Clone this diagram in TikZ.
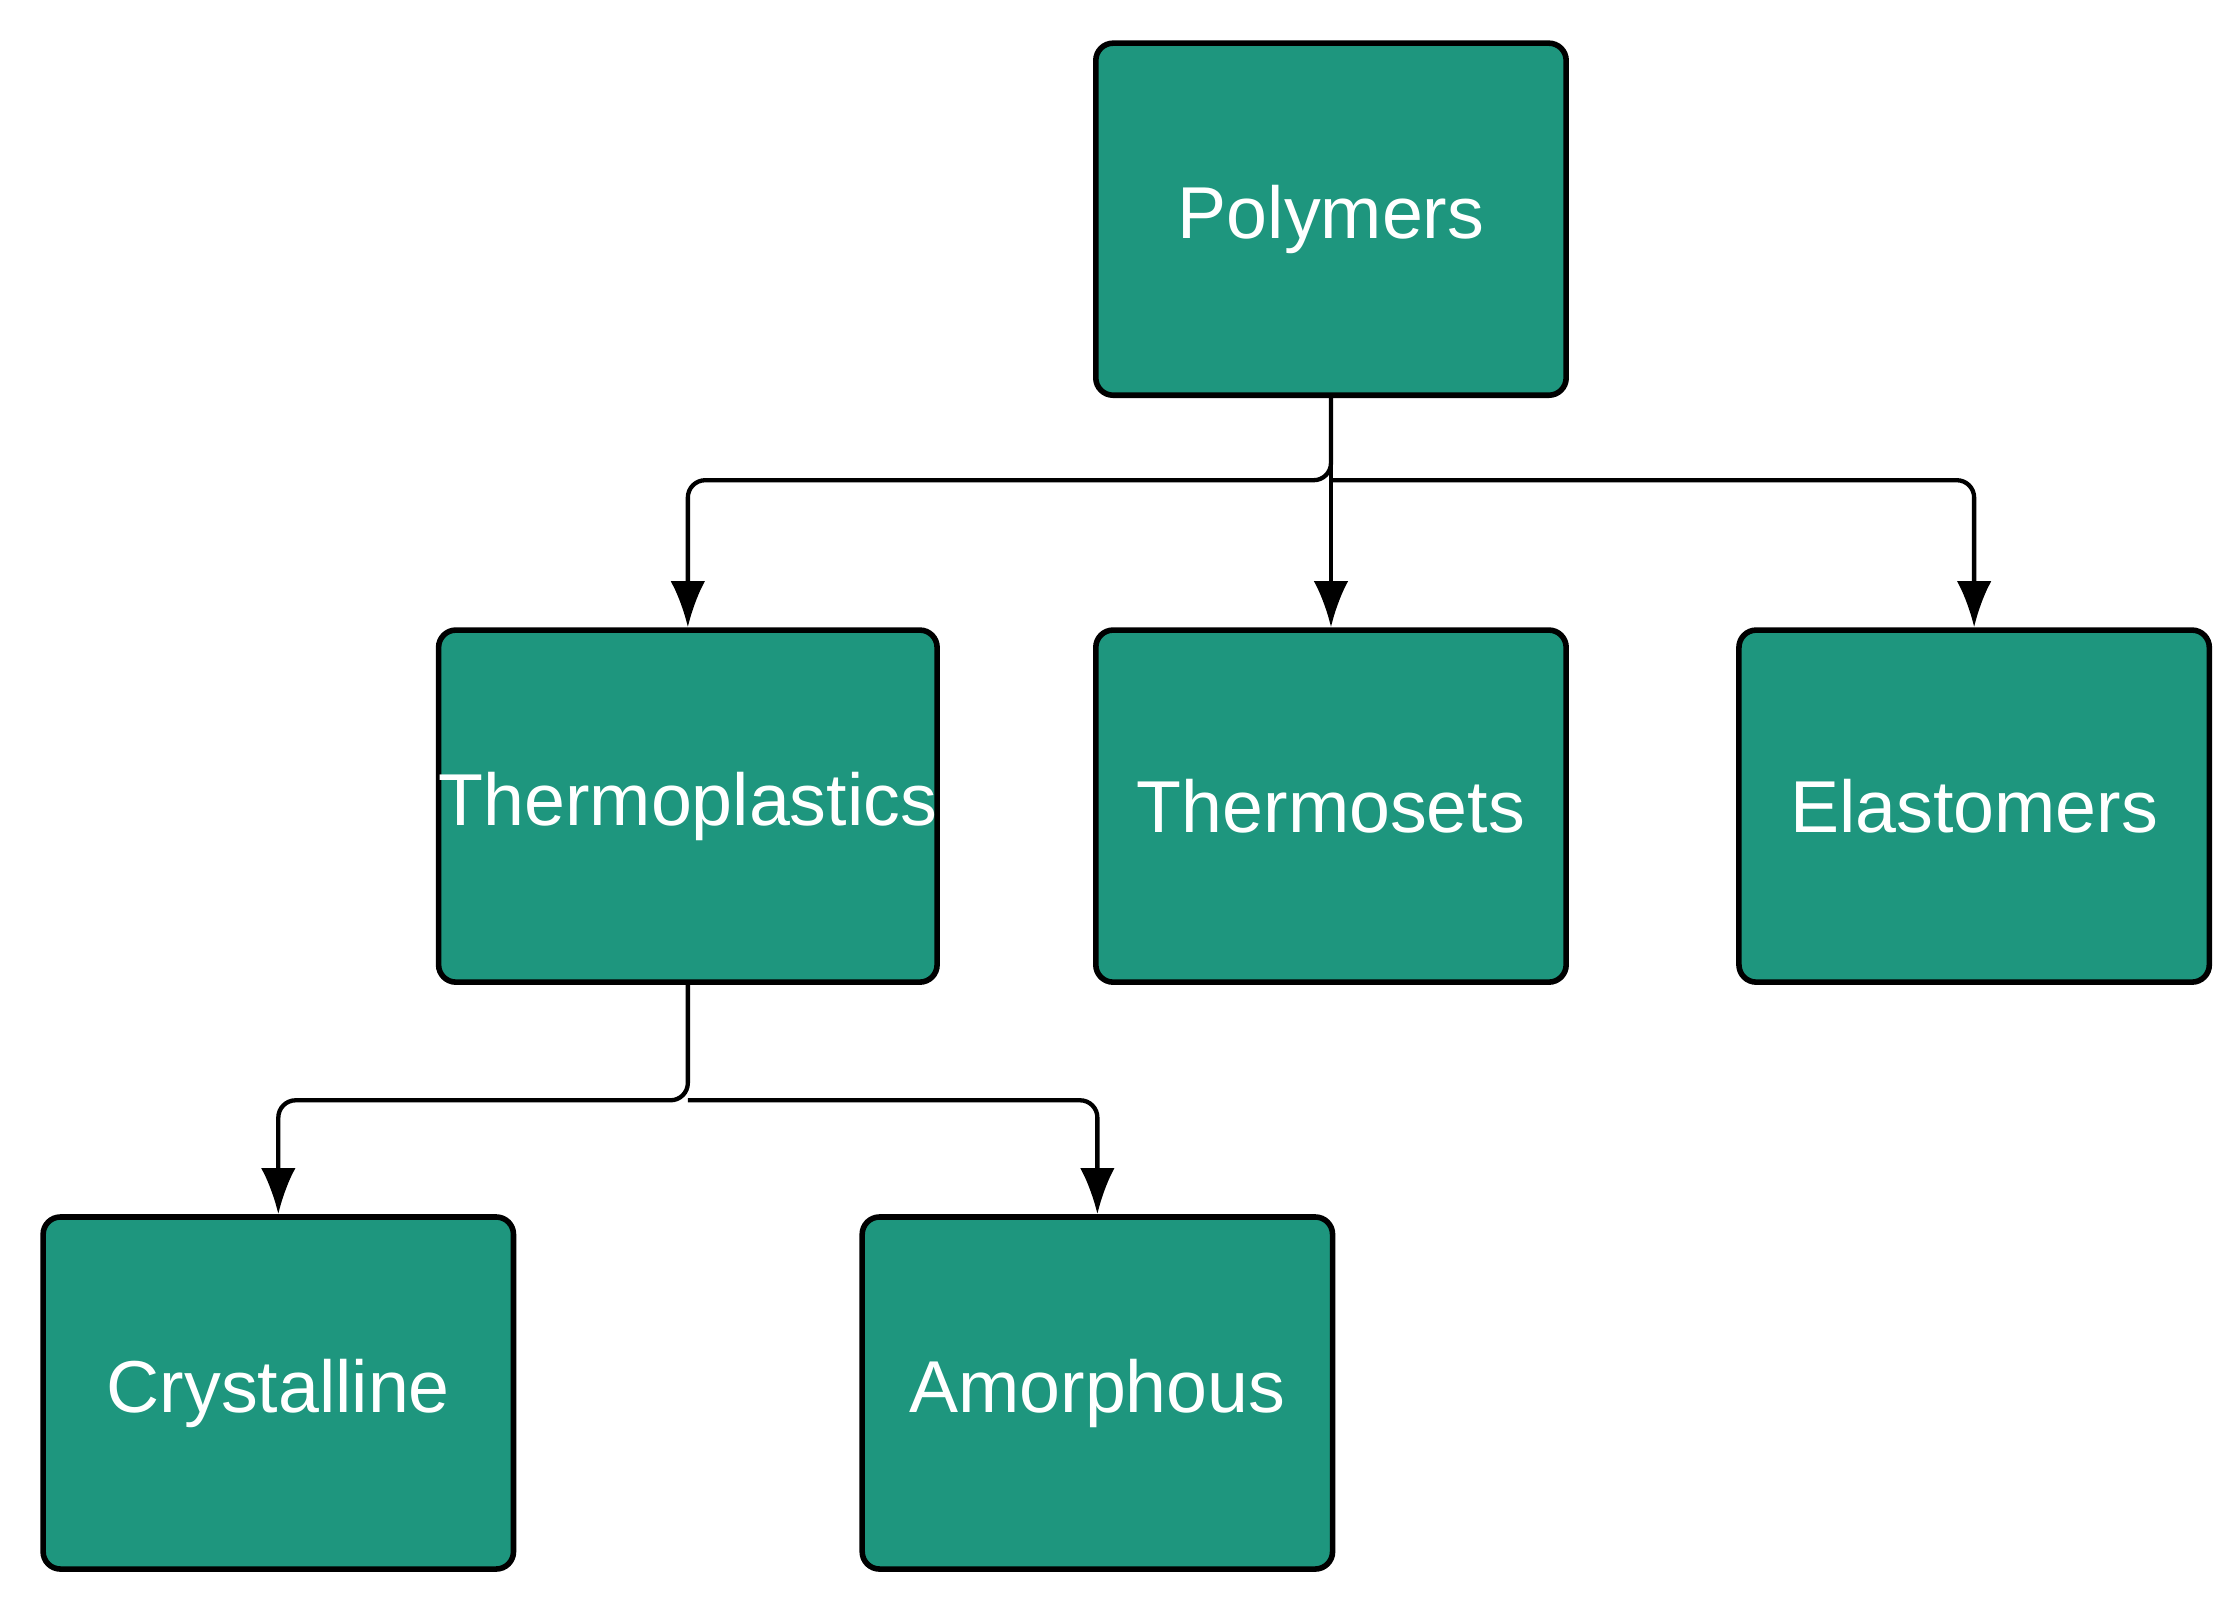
\documentclass[tikz,border=0pt]{standalone}
\usepackage{fontspec}
\setmainfont{Liberation Sans}
\usetikzlibrary{arrows.meta}
\definecolor{boxfill}{HTML}{1E967E}
\begin{document}
\begin{tikzpicture}[x=0.01cm,y=-0.01cm,
  box/.style={draw=black,line width=1.1pt,fill=boxfill,rounded corners=1.2mm,
    minimum width=3.26cm,minimum height=2.44cm,text=white,font=\fontsize{14.5}{17}\selectfont,inner sep=0pt},
  conn/.style={line width=0.85pt,rounded corners=1.2mm,-{Latex[length=3.2mm,width=2.4mm]}}]
\useasboundingbox (0,0) rectangle (1552,1117);
\node[box] (poly) at (923,152) {Polymers};
\node[box] (tp) at (477,559) {Thermoplastics};
\node[box] (ts) at (923,559) {Thermosets};
\node[box] (el) at (1369,559) {Elastomers};
\node[box] (cr) at (193,966) {Crystalline};
\node[box] (am) at (761,966) {Amorphous};
\coordinate (b1) at (923,333);
\coordinate (b2) at (477,763);
\draw[conn] (poly.south) -- (b1) -| (tp.north);
\draw[conn] (b1) -| (el.north);
\draw[conn] (poly.south) -- (ts.north);
\draw[conn] (tp.south) -- (b2) -| (cr.north);
\draw[conn] (b2) -| (am.north);
\end{tikzpicture}
\end{document}
